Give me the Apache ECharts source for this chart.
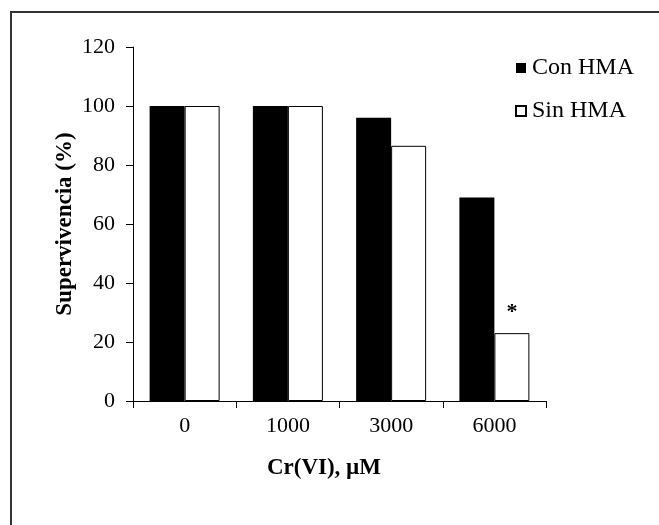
<!DOCTYPE html>
<html lang="es">
<head>
  <meta charset="UTF-8">
  <title>Supervivencia</title>
  <script src="https://cdn.jsdelivr.net/npm/echarts@6/dist/echarts.min.js"></script>
  <style type="text/css">
    html, body { margin: 0; padding: 0; background: #fff; }
    #main { width: 659px; height: 525px; }
  </style>
</head>
<body>
  <div id="main"></div>

  <script type="text/javascript">
    // datos
    var categories = ['0', '1000', '3000', '6000'];
    var conHMA = [100, 100, 96, 69];
    var sinHMA = [100, 100, 86.5, 23];
    var marks = ['', '', '', '*'];   // significancia sobre Sin HMA
    var yTicks = [0, 20, 40, 60, 80, 100, 120];

    var font = 'Liberation Serif';

    var myChart = echarts.init(document.getElementById('main'));

    var option = {
      animation: false,
      backgroundColor: '#fff',
      textStyle: { fontFamily: font, color: '#000' },
      graphic: [{
        type: 'rect',
        shape: { x: 11, y: 12, width: 700, height: 600 },
        style: { fill: 'none', stroke: '#333', lineWidth: 2 },
        silent: true
      }],
      legend: {
        orient: 'vertical',
        left: 510,
        top: 51,
        icon: 'rect',
        itemWidth: 10,
        itemHeight: 10,
        itemGap: 19,
        textStyle: { fontFamily: font, fontSize: 24, color: '#000', lineHeight: 24, padding: [0, 0, 0, 1] },
        data: ['Con HMA', 'Sin HMA']
      },
      grid: { left: 133, right: 113, top: 47, bottom: 124 },
      xAxis: {
        type: 'category',
        data: categories,
        name: 'Cr(VI), µM',
        nameLocation: 'middle',
        nameGap: 56,
        nameMoveOverlap: false,
        nameTextStyle: { fontFamily: font, fontSize: 23, fontWeight: 'bold', color: '#000', padding: [0, 31, 0, 0] },
        axisLine: { lineStyle: { color: '#000', width: 1 } },
        axisTick: { show: true, length: 7, lineStyle: { color: '#000' } },
        axisLabel: { margin: 14, fontFamily: font, fontSize: 22, color: '#000' }
      },
      yAxis: {
        type: 'value',
        min: yTicks[0],
        max: yTicks[yTicks.length - 1],
        interval: yTicks[1] - yTicks[0],
        name: 'Supervivencia (%)',
        nameLocation: 'middle',
        nameGap: 56,
        nameMoveOverlap: false,
        nameTextStyle: { fontFamily: font, fontSize: 23, fontWeight: 'bold', color: '#000' },
        axisLine: { show: true, lineStyle: { color: '#000', width: 1 } },
        axisTick: { show: true, length: 7, lineStyle: { color: '#000' } },
        axisLabel: { margin: 18, fontFamily: font, fontSize: 22, color: '#000' },
        splitLine: { show: false }
      },
      series: [
        {
          name: 'Con HMA',
          type: 'bar',
          data: conHMA,
          barWidth: 35,
          barGap: '0%',
          itemStyle: { color: '#000' }
        },
        {
          name: 'Sin HMA',
          type: 'bar',
          data: sinHMA,
          barWidth: 35,
          barGap: '0%',
          itemStyle: { color: '#fff', borderColor: '#000', borderWidth: 1 },
          label: {
            show: true,
            position: 'top',
            distance: 10,
            fontFamily: font,
            fontSize: 22,
            fontWeight: 'bold',
            color: '#000',
            formatter: function (p) { return marks[p.dataIndex]; }
          }
        }
      ]
    };

    myChart.setOption(option);
  </script>
</body>
</html>
